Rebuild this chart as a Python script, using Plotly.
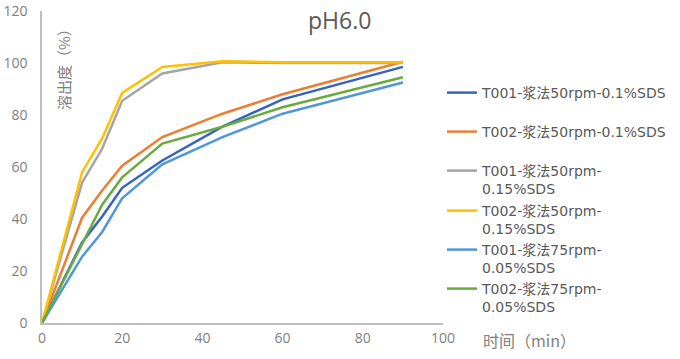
import plotly.graph_objects as go

time_min = [0, 10, 15, 20, 30, 45, 60, 90]

t001_50_01 = [0, 31, 41, 52, 62.5, 75.5, 86, 98.5]
t002_50_01 = [0, 40.5, 51, 60.5, 71.5, 80.5, 88, 100.5]
t001_50_015 = [0, 54, 67, 85.5, 96, 100.3, 100, 100]
t002_50_015 = [0, 58, 71, 88.5, 98.5, 100.7, 100.3, 100.3]
t001_75_005 = [0, 25.5, 35, 48, 61, 71.5, 80.5, 92.5]
t002_75_005 = [0, 30, 45.5, 56, 69, 75.5, 83, 94.5]

names = [
    "T001-浆法50rpm-0.1%SDS",
    "T002-浆法50rpm-0.1%SDS",
    "T001-浆法50rpm-<br>0.15%SDS",
    "T002-浆法50rpm-<br>0.15%SDS",
    "T001-浆法75rpm-<br>0.05%SDS",
    "T002-浆法75rpm-<br>0.05%SDS",
]
series = [t001_50_01, t002_50_01, t001_50_015, t002_50_015, t001_75_005, t002_75_005]
colors = ["#3562C4", "#ED7D31", "#A5A5A5", "#FFC000", "#4F97DC", "#6AAA3E"]

W, H = 680, 359
L, R, T, B = 42, 237, 11, 36
PW, PH = W - L - R, H - T - B
FONT = "Open Sans, Noto Sans CJK SC, sans-serif"
LFONT = "DejaVu Sans, Noto Sans CJK SC, sans-serif"
legend_y_px = [92, 131, 170, 210, 249, 288]

fig = go.Figure()
layout_legends = {}
for i, (nm, ys, c) in enumerate(zip(names, series, colors)):
    key = "legend" if i == 0 else f"legend{i+1}"
    fig.add_trace(go.Scatter(x=time_min, y=ys, mode="lines", name=nm,
                             line=dict(color=c, width=2.5), legend=key))
    layout_legends[key] = dict(
        xref="container", yref="container",
        x=442 / W, y=1 - (legend_y_px[i] - 15) / H,
        xanchor="left", yanchor="top", valign="top",
        bgcolor="rgba(0,0,0,0)", borderwidth=0,
        font=dict(family=LFONT, size=14, color="#595959"),
    )

fig.update_layout(
    width=W, height=H,
    margin=dict(l=L, r=R, t=T, b=B, autoexpand=False),
    paper_bgcolor="white", plot_bgcolor="white",
    showlegend=True,
    xaxis=dict(range=[0, 100], tickvals=[0, 20, 40, 60, 80, 100], showgrid=False, zeroline=False,
               showline=True, linecolor="#BFBFBF", linewidth=1.5, ticks="", automargin=False,
               tickfont=dict(family=FONT, size=14, color="#808080"), ticklabelstandoff=1),
    yaxis=dict(range=[0, 120], tickvals=[0, 20, 40, 60, 80, 100, 120], showgrid=False, zeroline=False,
               showline=True, linecolor="#BFBFBF", linewidth=1.5, ticks="", automargin=False,
               tickfont=dict(family=FONT, size=14, color="#808080"), ticklabelstandoff=10),
    annotations=[
        dict(text="pH6.0", xref="paper", yref="paper", x=(339 - L) / PW, y=(H - B - 20) / PH,
             showarrow=False, xanchor="center", yanchor="middle",
             font=dict(family=FONT, size=23, color="#595959")),
        dict(text="溶出度（%）", xref="paper", yref="paper", x=(63 - L) / PW, y=(H - B - 66) / PH,
             textangle=-90, showarrow=False, xanchor="center", yanchor="middle",
             font=dict(family="Noto Sans CJK SC, sans-serif", size=15, color="#808080")),
        dict(text="时间（min）", xref="paper", yref="paper", x=(481 - L) / PW, y=-(340 - (H - B)) / PH,
             showarrow=False, xanchor="left", yanchor="middle",
             font=dict(family="Noto Sans CJK SC, sans-serif", size=16, color="#808080")),
    ],
    **layout_legends,
)

fig.write_html("out.html", config={"displayModeBar": False},
               post_script="document.body.style.margin='0px';")
